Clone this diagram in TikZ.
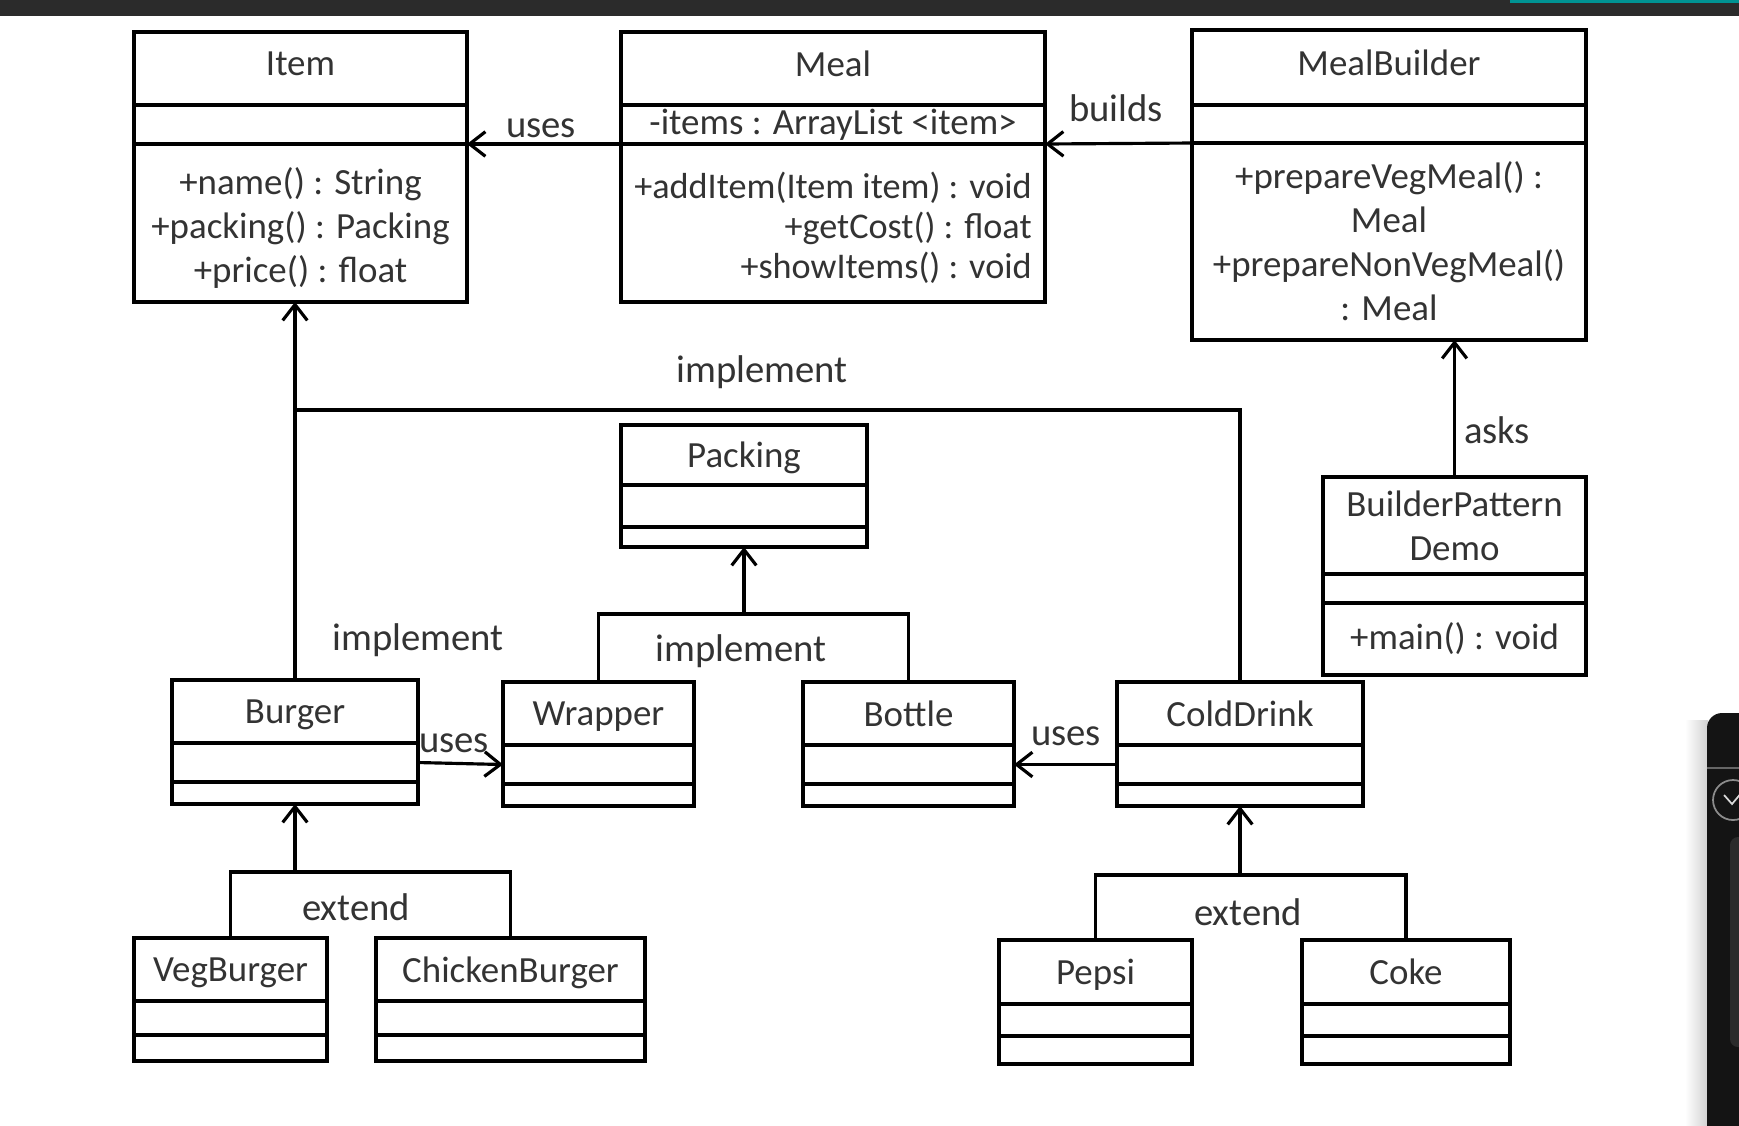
\documentclass[tikz,border=0pt]{standalone}
\usepackage{fontspec}
\setmainfont{Carlito}
\usetikzlibrary{arrows.meta,positioning}

\begin{document}
\begin{tikzpicture}[
  >={Straight Barb[length=4.5pt,width=7pt]},
  cls/.style={draw, line width=1pt, outer sep=0pt, inner sep=0pt, align=center,
              font=\fontsize{10.5}{12.5}\selectfont, text=black!80},
  slot/.style={cls, minimum height=#1},
  namebox/.style={slot=#1, text depth=0pt},
  lbl/.style={font=\fontsize{11}{13}\selectfont, text=black!80, inner sep=0pt},
  arr/.style={->, line width=0.9pt},
  wire/.style={line width=0.9pt},
]
\useasboundingbox (0,0) rectangle (17.39,-11.25);

%% ═══ SCREEN EDGES ═════════════════════════════════════════════════════
\fill[black!83] (0,0) rectangle (17.39,-0.16);
\fill[teal!85!cyan] (15.10,0) rectangle (17.39,-0.03);
\shade[left color=white, right color=black!18] (16.85,-7.20) rectangle (17.08,-11.25);
\fill[black!92, rounded corners=0.15cm] (17.07,-11.5) rectangle (17.7,-7.13);
\draw[black!60, line width=0.4pt] (17.07,-7.68) -- (17.39,-7.68);
\draw[black!45, line width=0.5pt] (17.33,-8.00) circle (0.2);
\draw[black!15, line width=0.5pt] (17.24,-7.95) -- (17.32,-8.04) -- (17.42,-7.92);
\fill[black!83, rounded corners=0.08cm] (17.30,-8.37) rectangle (17.7,-10.47);

%% ═══ TOP ROW ══════════════════════════════════════════════════════════
\node[namebox=0.73cm, text depth=0.3em, minimum width=3.33cm] (item) at (3.005,-0.685) {Item};
\node[slot=0.39cm, minimum width=3.33cm, below=0pt of item] (itemAt) {};
\node[slot=1.58cm, minimum width=3.33cm, below=0pt of itemAt] (itemOp)
    {\rule{0pt}{0.98em}+name() : String\\+packing() : Packing\\+price() : float};

\node[namebox=0.73cm, text depth=0.3em, minimum width=4.24cm] (meal) at (8.33,-0.685) {Meal};
\node[slot=0.39cm, minimum width=4.24cm, below=0pt of meal] (mealAt)
    {-items : ArrayList <item>};
\node[slot=1.58cm, minimum width=4.24cm, below=0pt of mealAt, align=right,
      font=\fontsize{10.3}{11.4}\selectfont] (mealOp)
    {\rule{0pt}{0.98em}+addItem(Item item) : void\\+getCost() : float\\+showItems() : void};

\node[namebox=0.75cm, text depth=0.3em, minimum width=3.94cm] (builder) at (13.89,-0.675) {MealBuilder};
\node[slot=0.38cm, minimum width=3.94cm, below=0pt of builder] (builderAt) {};
\node[slot=1.97cm, minimum width=3.94cm, below=0pt of builderAt] (builderOp)
    {+prepareVegMeal() :\\Meal\\+prepareNonVegMeal()\\: Meal};

% client
\node[slot=0.97cm, minimum width=2.63cm] (demo) at (14.545,-5.255) {BuilderPattern\\Demo};
\node[slot=0.29cm, minimum width=2.63cm, below=0pt of demo] (demoAt) {};
\node[slot=0.72cm, minimum width=2.63cm, below=0pt of demoAt] (demoOp) {+main() : void};

%% ═══ PACKING ══════════════════════════════════════════════════════════
\node[namebox=0.60cm, minimum width=2.46cm] (pack) at (7.44,-4.55) {Packing};
\node[slot=0.42cm, minimum width=2.46cm, below=0pt of pack] (packAt) {};
\node[slot=0.20cm, minimum width=2.46cm, below=0pt of packAt] (packOp) {};

%% ═══ MIDDLE ROW ═══════════════════════════════════════════════════════
\node[namebox=0.63cm, minimum width=2.46cm] (burger) at (2.95,-7.115) {Burger};
\node[slot=0.39cm, minimum width=2.46cm, below=0pt of burger] (burgerAt) {};
\node[slot=0.22cm, minimum width=2.46cm, below=0pt of burgerAt] (burgerOp) {};

\node[namebox=0.63cm, minimum width=1.91cm] (wrapper) at (5.985,-7.135) {Wrapper};
\node[slot=0.39cm, minimum width=1.91cm, below=0pt of wrapper] (wrapperAt) {};
\node[slot=0.22cm, minimum width=1.91cm, below=0pt of wrapperAt] (wrapperOp) {};

\node[namebox=0.63cm, minimum width=2.11cm] (bottle) at (9.085,-7.135) {Bottle};
\node[slot=0.39cm, minimum width=2.11cm, below=0pt of bottle] (bottleAt) {};
\node[slot=0.22cm, minimum width=2.11cm, below=0pt of bottleAt] (bottleOp) {};

\node[namebox=0.63cm, minimum width=2.46cm] (cold) at (12.40,-7.135) {ColdDrink};
\node[slot=0.39cm, minimum width=2.46cm, below=0pt of cold] (coldAt) {};
\node[slot=0.22cm, minimum width=2.46cm, below=0pt of coldAt] (coldOp) {};

%% ═══ BOTTOM ROW ═══════════════════════════════════════════════════════
\node[namebox=0.63cm, minimum width=1.93cm] (veg) at (2.305,-9.695) {VegBurger};
\node[slot=0.34cm, minimum width=1.93cm, below=0pt of veg] (vegAt) {};
\node[slot=0.26cm, minimum width=1.93cm, below=0pt of vegAt] (vegOp) {};

\node[namebox=0.63cm, minimum width=2.69cm] (chicken) at (5.105,-9.695) {ChickenBurger};
\node[slot=0.34cm, minimum width=2.69cm, below=0pt of chicken] (chickenAt) {};
\node[slot=0.26cm, minimum width=2.69cm, below=0pt of chickenAt] (chickenOp) {};

\node[namebox=0.64cm, minimum width=1.93cm] (pepsi) at (10.955,-9.72) {Pepsi};
\node[slot=0.32cm, minimum width=1.93cm, below=0pt of pepsi] (pepsiAt) {};
\node[slot=0.28cm, minimum width=1.93cm, below=0pt of pepsiAt] (pepsiOp) {};

\node[namebox=0.64cm, minimum width=2.08cm] (coke) at (14.06,-9.72) {Coke};
\node[slot=0.32cm, minimum width=2.08cm, below=0pt of coke] (cokeAt) {};
\node[slot=0.28cm, minimum width=2.08cm, below=0pt of cokeAt] (cokeOp) {};

% bar heights of the trees
\coordinate (itbar) at (2.95,-4.10);
\coordinate (pkbar) at (7.44,-6.14);
\coordinate (bgbar) at (2.95,-8.72);
\coordinate (cdbar) at (12.40,-8.75);

% associations
\draw[arr] (mealOp.north west) -- (itemOp.north east);
\draw[arr] (builderOp.north west) -- (mealOp.north east);
\draw[arr] (demo.north) -- (demo.north |- builderOp.south);
\draw[arr] (burgerAt.east) -- (wrapperAt.west);
\draw[arr] (coldAt.west) -- (bottleAt.east);

% implement / extend
\draw[arr]  (burger.north) -- (burger.north |- itemOp.south);
\draw[wire] (cold.north) |- (itbar);
\draw[wire] (wrapper.north) |- (pkbar) -| (bottle.north);
\draw[arr]  (pkbar) -- (packOp.south);
\draw[wire] (veg.north) |- (bgbar) -| (chicken.north);
\draw[arr]  (bgbar) -- (burgerOp.south);
\draw[wire] (pepsi.north) |- (cdbar) -| (coke.north);
\draw[arr]  (cdbar) -- (coldOp.south);

% labels
\node[lbl] (usesItem)   at (5.41,-1.285) {uses};
\node[lbl] (buildsMeal) at (11.16,-1.08) {builds};
\node[lbl] (implTop)    at (7.62,-3.72)  {implement};
\node[lbl] (asksLbl)    at (14.97,-4.30) {asks};
\node[lbl] (implBurger) at (4.18,-6.40)  {implement};
\node[lbl] (implPack)   at (7.41,-6.51)  {implement};
\node[lbl] (usesWrap)   at (4.54,-7.43)  {uses};
\node[lbl] (usesBottle) at (10.66,-7.36) {uses};
\node[lbl] (extBurger)  at (3.56,-9.07)  {extend};
\node[lbl] (extDrink)   at (12.48,-9.12) {extend};

\end{tikzpicture}
\end{document}
